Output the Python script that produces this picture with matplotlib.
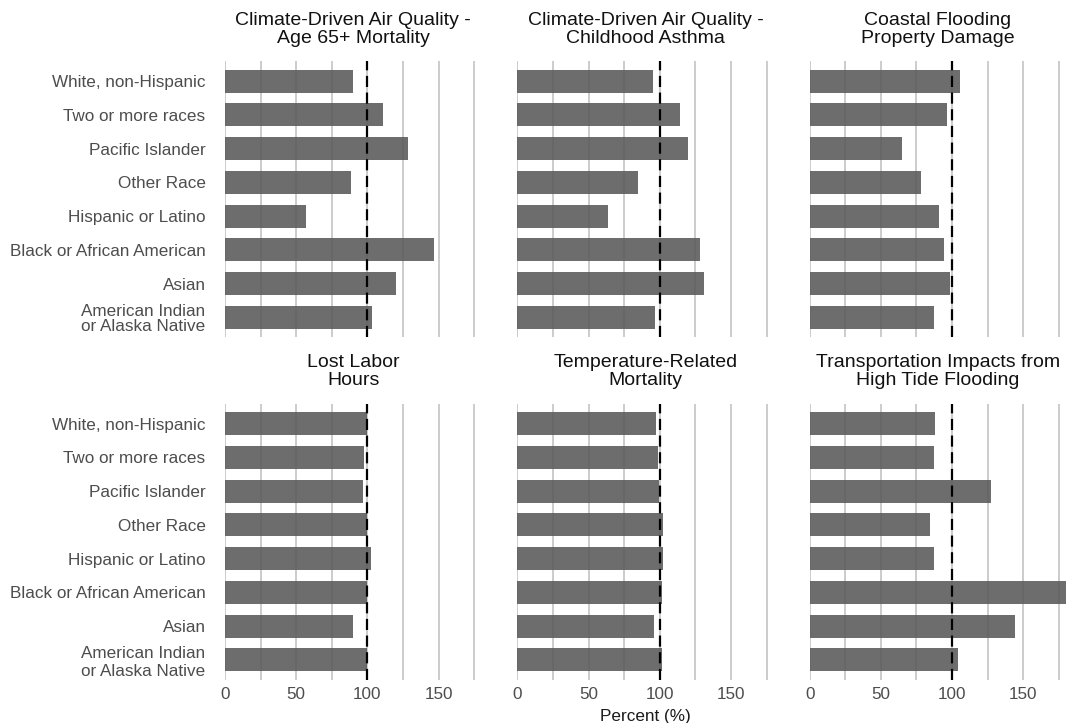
import matplotlib
matplotlib.use("Agg")
import matplotlib.pyplot as plt

plt.rcParams['font.family'] = ['Liberation Sans', 'DejaVu Sans']

groups = ["White, non-Hispanic", "Two or more races", "Pacific Islander", "Other Race",
          "Hispanic or Latino", "Black or African American", "Asian",
          "American Indian\nor Alaska Native"]

titles = ["Climate-Driven Air Quality -\nAge 65+ Mortality",
          "Climate-Driven Air Quality -\nChildhood Asthma",
          "Coastal Flooding\nProperty Damage",
          "Lost Labor\nHours",
          "Temperature-Related\nMortality",
          "Transportation Impacts from\nHigh Tide Flooding"]

air_mortality = [90, 111, 128.5, 88.5, 57, 147, 120, 103.5]
air_asthma = [95.5, 114, 119.5, 84.5, 64, 128, 131, 96.5]
coastal_damage = [105.5, 96.5, 65, 78, 90.5, 94, 98.5, 87.5]
labor_hours = [100, 97.5, 97, 100, 102.5, 100, 90, 100]
temp_mortality = [97.5, 98.5, 99.5, 102.5, 102.5, 101.5, 96, 101.5]
tide_flooding = [88, 87, 127, 84.5, 87, 180, 144, 104]

series = [air_mortality, air_asthma, coastal_damage, labor_hours, temp_mortality, tide_flooding]

W, H = 1067, 723
fig, axes = plt.subplots(2, 3, figsize=(W / 100, H / 100), dpi=100, sharex=True, sharey=True)
fig.subplots_adjust(left=225 / W, right=1066 / W, top=1 - 61 / H, bottom=1 - 680 / H,
                    wspace=0.1405, hspace=0.239)

ypos = list(range(len(groups)))[::-1]
xmax = max(max(s) for s in series)

for i, ax in enumerate(axes.flat):
    ax.barh(ypos, series[i], height=0.68, color='#595959', alpha=0.88, zorder=2)
    # reference line at 100%
    ax.axvline(100, color='black', linestyle=(0, (5, 2.5)), linewidth=1.6, zorder=3)
    ax.set_xlim(0, xmax)
    ax.set_ylim(-0.6, len(groups) - 0.4)
    ax.set_xticks([0, 50, 100, 150])
    ax.set_xticks([25, 75, 125, 175], minor=True)
    ax.grid(axis='x', which='both', color='#c4c4c4', linewidth=1.2, zorder=0)
    ax.set_axisbelow(True)
    for s in ax.spines.values():
        s.set_visible(False)
    ax.tick_params(which='both', length=0, labelsize=12.3, labelcolor='#4d4d4d')
    ax.tick_params(axis='y', pad=14)
    ax.tick_params(axis='x', pad=5)
    ax.set_title(titles[i], fontsize=14, color='#111111', pad=13, linespacing=1.1)

axes[0, 0].set_yticks(ypos)
axes[0, 0].set_yticklabels(groups, linespacing=1.05)
axes[1, 1].set_xlabel("Percent (%)", fontsize=12.3, color='#1a1a1a', labelpad=5)

fig.savefig("out.png", dpi=100)
